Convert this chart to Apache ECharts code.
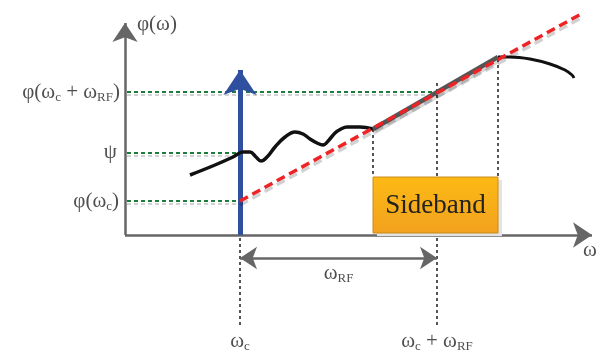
<!DOCTYPE html>
<html>
<head>
<meta charset="utf-8">
<script src="https://cdn.jsdelivr.net/npm/echarts@6/dist/echarts.min.js"></script>
<style>
  html, body { margin: 0; padding: 0; background: #fff; }
  #main { width: 603px; height: 350px; }
</style>
</head>
<body>
<div id="main"></div>
<script>
  // frequency marks (omega, measured from the phi axis)
  const omegaC = 115
  const omegaRF = 197
  const sidebandEdges = [248, 373]
  // phase levels
  const phiC = 34
  const psi = 82
  const phiCRF = 143
  // linear phase line, from carrier up to the top right
  const linearPhase = [[115, 34], [458, 222]]
  // measured phase curve, wavy part before sideband
  const phaseLow = [[65, 60], [90, 70], [108, 78], [118, 83], [125, 83], [131, 78], [136, 74],
    [142, 78], [150, 88], [160, 98], [170, 103], [178, 101], [185, 96], [192, 92], [198, 90],
    [204, 95], [210, 102], [216, 106], [222, 108], [235, 108], [248, 106]]
  // part inside the sideband (follows the linear line)
  const phaseBand = [[248, 106], [373, 178]]
  // part after the sideband
  const phaseHigh = [[373, 178], [385, 178], [405, 176], [425, 171], [440, 165], [447, 160], [449, 157]]
  // axis ends
  const omegaMax = 467
  const phiMax = 212
  const rfArrowY = -23
  const dropY = -90

  const serif = '"Liberation Serif", "DejaVu Serif", serif'
  const rich = {
    s: { fontSize: 13, lineHeight: 13, verticalAlign: 'bottom', fontFamily: serif, color: '#222' }
  }

  function label(x, y, text, pos, size) {
    return {
      value: [x, y],
      label: {
        show: true, formatter: text, position: pos, distance: 0,
        fontFamily: serif, fontSize: size || 21, lineHeight: 25, color: '#222', rich: rich
      }
    }
  }

  const dotted = { color: '#555', width: 2, type: [3, 3] }
  const green = { color: '#1b7c3c', width: 2, type: [4, 3], shadowColor: 'rgba(0,0,0,0.18)', shadowOffsetY: 3 }

  const chart = echarts.init(document.getElementById('main'))
  chart.setOption({
    animation: false,
    grid: { left: 0, right: 0, top: 0, bottom: 0 },
    xAxis: { type: 'value', min: -125, max: 478, show: false },
    yAxis: { type: 'value', min: -115, max: 235, show: false },
    series: [
      {
        // sideband box
        type: 'custom',
        z: 3,
        renderItem: function (params, api) {
          const p1 = api.coord([sidebandEdges[0], 58])
          const p2 = api.coord([sidebandEdges[1], 2])
          return {
            type: 'group',
            children: [
              {
                type: 'rect',
                shape: { x: p1[0] + 4, y: p1[1] + 3, width: p2[0] - p1[0], height: p2[1] - p1[1] },
                style: { fill: '#e4e4e4' }
              },
              {
                type: 'rect',
                shape: { x: p1[0], y: p1[1], width: p2[0] - p1[0], height: p2[1] - p1[1] },
                style: {
                  fill: new echarts.graphic.LinearGradient(0, 0, 0, 1, [
                    { offset: 0, color: '#fdba14' },
                    { offset: 1, color: '#f2a11e' }
                  ]),
                  stroke: '#c98a1c', lineWidth: 1
                }
              },
              {
                type: 'text',
                style: {
                  text: 'Sideband', x: (p1[0] + p2[0]) / 2, y: (p1[1] + p2[1]) / 2 + 1,
                  align: 'center', verticalAlign: 'middle',
                  font: '27px ' + serif, fill: '#222'
                }
              }
            ]
          }
        },
        data: [[0]]
      },
      {
        // axes
        type: 'lines', coordinateSystem: 'cartesian2d', z: 2,
        symbol: ['none', 'arrow'], symbolSize: 19,
        lineStyle: { color: '#666', width: 2.5, opacity: 1 },
        data: [
          { coords: [[0, 0], [omegaMax, 0]] },
          { coords: [[0, 0], [0, phiMax]] }
        ]
      },
      {
        // green level guides
        type: 'lines', coordinateSystem: 'cartesian2d', z: 4,
        lineStyle: Object.assign({ opacity: 1 }, green),
        data: [
          { coords: [[2, phiCRF], [omegaC + omegaRF, phiCRF]] },
          { coords: [[2, psi], [omegaC, psi]] },
          { coords: [[2, phiC], [omegaC, phiC]] }
        ]
      },
      {
        // gray dotted verticals
        type: 'lines', coordinateSystem: 'cartesian2d', z: 2,
        lineStyle: Object.assign({ opacity: 1 }, dotted),
        data: [
          { coords: [[sidebandEdges[0], 106], [sidebandEdges[0], 58]] },
          { coords: [[omegaC + omegaRF, 152], [omegaC + omegaRF, 58]] },
          { coords: [[sidebandEdges[1], 176], [sidebandEdges[1], 58]] },
          { coords: [[omegaC + omegaRF, -3], [omegaC + omegaRF, dropY]] },
          { coords: [[omegaC, -3], [omegaC, dropY]] }
        ]
      },
      {
        // omega_RF span arrow
        type: 'lines', coordinateSystem: 'cartesian2d', z: 2,
        symbol: ['arrow', 'arrow'], symbolSize: 17,
        lineStyle: { color: '#666', width: 2.5, opacity: 1 },
        data: [{ coords: [[omegaC, rfArrowY], [omegaC + omegaRF, rfArrowY]] }]
      },
      {
        // carrier
        type: 'lines', coordinateSystem: 'cartesian2d', z: 5,
        symbol: ['none', 'arrow'], symbolSize: 25,
        lineStyle: { color: '#2f4f9f', width: 5, opacity: 1 },
        data: [{ coords: [[omegaC, 0], [omegaC, 165]] }]
      },
      {
        type: 'line', z: 6, data: phaseLow, smooth: 0.4, showSymbol: false,
        lineStyle: { color: '#111', width: 3.5 }
      },
      {
        type: 'line', z: 6, data: phaseBand, showSymbol: false,
        lineStyle: { color: '#555', width: 4.5, shadowColor: 'rgba(0,0,0,0.15)', shadowOffsetY: 4 }
      },
      {
        type: 'line', z: 6, data: phaseHigh, smooth: 0.4, showSymbol: false,
        lineStyle: { color: '#111', width: 3 }
      },
      {
        // linear phase
        type: 'line', z: 7, data: linearPhase, showSymbol: false,
        lineStyle: { color: '#ee2326', width: 3.5, type: [9, 5], shadowColor: 'rgba(0,0,0,0.18)', shadowOffsetY: 4 }
      },
      {
        type: 'scatter', z: 8, symbolSize: 0, silent: true,
        data: [
          label(12, phiMax - 1, 'φ(ω)', 'right'),
          label(-5, phiCRF, 'φ(ω{s|c} + ω{s|RF})', 'left'),
          label(-8, psi + 1, 'ψ', 'left'),
          label(-6, phiC, 'φ(ω{s|c})', 'left'),
          label(465, -15, 'ω', 'inside'),
          label(omegaC + omegaRF / 2, rfArrowY - 15, 'ω{s|RF}', 'inside'),
          label(omegaC, -106, 'ω{s|c}', 'inside'),
          label(omegaC + omegaRF, -106, 'ω{s|c} + ω{s|RF}', 'inside')
        ]
      }
    ]
  })
</script>
</body>
</html>
